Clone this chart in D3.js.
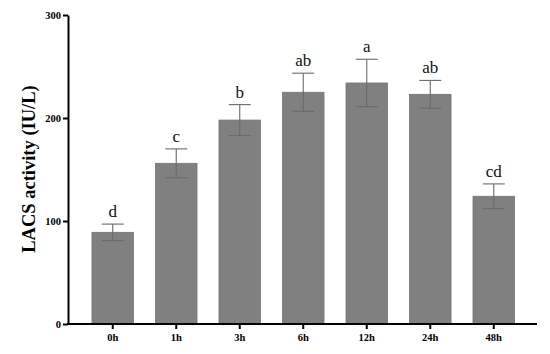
<!DOCTYPE html>
<html>
<head>
<meta charset="utf-8">
<script src="https://cdn.jsdelivr.net/npm/d3@7"></script>
<style>
  body { margin: 0; background: #fff; }
  svg { display: block; }
</style>
</head>
<body>
<div id="chart"></div>
<script>
// chart values
var timePoints = ["0h", "1h", "3h", "6h", "12h", "24h", "48h"];
var meanValues = [89, 156, 198, 225, 234, 223, 124];
var sdValues   = [8, 14, 15, 18.5, 23, 13.5, 12];
var sigLetters = ["d", "c", "b", "ab", "a", "ab", "cd"];
var yTicks = [0, 100, 200, 300];

var width = 550, height = 354;
var svg = d3.select("#chart").append("svg")
    .attr("width", width)
    .attr("height", height);

// scales
var x = d3.scaleBand().domain(timePoints).range([70, 536.5]).padding(0.346);
var y = d3.scaleLinear().domain([0, 300]).range([324, 15]);

// bars
svg.selectAll("rect.bar").data(meanValues).enter().append("rect")
    .attr("class", "bar")
    .attr("x", function(d, i) { return x(timePoints[i]); })
    .attr("y", function(d) { return y(d); })
    .attr("width", x.bandwidth())
    .attr("height", function(d) { return y(0) - y(d); })
    .attr("fill", "#808080")
    .attr("stroke", "#747474")
    .attr("stroke-width", 0.8);

// error bars
var errG = svg.append("g").attr("stroke", "#6a6a6a").attr("stroke-width", 1.1);
meanValues.forEach(function(m, i) {
    var cx = x(timePoints[i]) + x.bandwidth() / 2;
    var top = y(m + sdValues[i]), bot = y(m - sdValues[i]);
    errG.append("line").attr("x1", cx).attr("x2", cx).attr("y1", top).attr("y2", bot);
    errG.append("line").attr("x1", cx - 11).attr("x2", cx + 11).attr("y1", top).attr("y2", top);
    errG.append("line").attr("x1", cx - 11).attr("x2", cx + 11).attr("y1", bot).attr("y2", bot);
});

// significance letters
svg.selectAll("text.sig").data(sigLetters).enter().append("text")
    .attr("class", "sig")
    .attr("x", function(d, i) { return x(timePoints[i]) + x.bandwidth() / 2; })
    .attr("y", function(d, i) { return y(meanValues[i] + sdValues[i]) - 7; })
    .attr("text-anchor", "middle")
    .style("font-family", "'Liberation Serif', 'Times New Roman', serif")
    .style("font-size", "17px")
    .attr("fill", "#111")
    .text(function(d) { return d; });

// y axis
var yAxis = svg.append("g")
    .attr("transform", "translate(68,0)")
    .call(d3.axisLeft(y).tickValues(yTicks).tickSize(5).tickSizeOuter(0));
yAxis.select(".domain").attr("stroke", "#000").attr("stroke-width", 2);
yAxis.selectAll(".tick line").attr("stroke", "#000").attr("stroke-width", 2);
yAxis.selectAll(".tick text")
    .attr("x", -7)
    .style("font-family", "'Liberation Serif', 'Times New Roman', serif")
    .style("font-weight", "bold")
    .style("font-size", "10.5px")
    .attr("fill", "#000");

// x axis
var xAxis = svg.append("g")
    .attr("transform", "translate(0,324)")
    .call(d3.axisBottom(x).tickSize(5).tickSizeOuter(0));
xAxis.select(".domain").attr("d", "M67,0H537").attr("stroke", "#000").attr("stroke-width", 2);
xAxis.selectAll(".tick line").attr("stroke", "#000").attr("stroke-width", 2);
xAxis.selectAll(".tick text")
    .attr("y", 10)
    .style("font-family", "'Liberation Serif', 'Times New Roman', serif")
    .style("font-weight", "bold")
    .style("font-size", "10.5px")
    .attr("fill", "#000");

// y axis title
svg.append("text")
    .attr("transform", "translate(35,169) rotate(-90)")
    .attr("text-anchor", "middle")
    .style("font-family", "'Liberation Serif', 'Times New Roman', serif")
    .style("font-weight", "bold")
    .style("font-size", "18.5px")
    .attr("fill", "#000")
    .text("LACS activity (IU/L)");
</script>
</body>
</html>
